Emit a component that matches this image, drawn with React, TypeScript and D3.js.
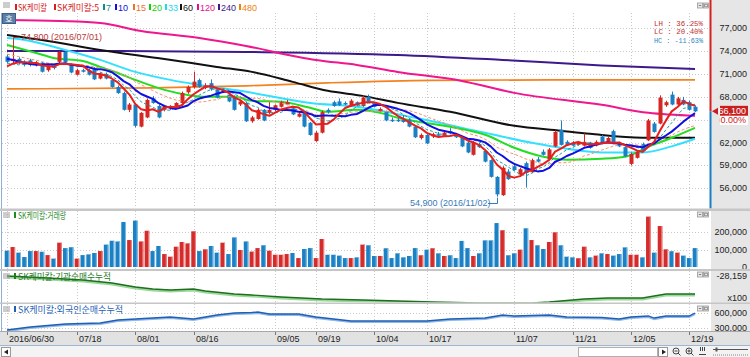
import React from 'react';
import * as d3 from 'd3';

// ---------- DATA ----------
const opens = [73300,72700,73000,72600,72800,72200,72500,71500,72000,72600,73900,72300,70900,71500,71500,71800,70400,71000,70200,69300,68500,66300,67000,64100,65300,67800,66800,66300,66500,66700,67200,68600,69300,70200,69200,69800,69000,68700,68300,68000,67000,67200,64800,65100,66300,65900,66300,66700,67000,66500,65400,65900,64600,62200,63300,66300,67300,67400,67200,66800,67300,66800,68000,67200,66100,66100,65000,65000,65000,65000,64100,62600,63000,62800,63100,62900,63500,62900,62700,62000,60400,61800,60900,59700,57500,55100,58200,58900,57800,59300,58100,59800,60800,59800,61500,63700,62100,62000,61700,61600,62000,61600,62800,62100,63500,61900,61400,59200,60000,61800,62300,64500,64500,66900,68300,67000,67600,67300,66700];
const highs = [73600,74800,73200,72800,73000,72700,72600,72200,72200,74000,74000,72400,71700,71700,71700,71900,71200,71200,70300,69500,68700,67200,67200,66000,67800,68100,67000,66900,66900,67300,68700,69500,71300,70400,69800,70300,69200,69100,68500,68200,67600,67400,65500,66500,66400,67300,67000,67500,67600,66700,66000,66000,64700,63500,66200,66500,67500,67800,67400,67700,67400,68200,68300,67300,66600,66200,65300,65300,65600,65200,64200,63200,63200,63300,63400,63500,63900,63000,62800,62100,62200,62000,61000,59800,57600,58900,58500,59300,58700,59500,59900,60100,61100,61300,63600,64900,62300,62200,62200,63200,62100,62300,63000,62800,63700,62100,61500,60700,61000,62000,65100,64700,68200,67500,68700,68000,68000,67500,66900];
const lows = [72400,72300,72300,72000,72000,72000,71200,71300,71600,72400,72400,71100,70800,71200,70800,70200,70300,70300,69200,68400,66200,66000,64000,64000,65200,67100,65200,66100,66300,66500,67000,68400,69100,69200,69000,68800,67800,68500,67300,66200,66800,64700,64600,65000,64800,65700,66100,66600,66900,65600,65300,64000,62900,62100,63200,65800,66700,66800,66900,66700,66800,66700,67300,66600,66000,64800,64700,64700,64600,64000,62600,62400,61800,62600,62800,62800,63100,62600,61400,60600,60300,61300,59400,57400,54900,55000,57100,58300,57600,56100,58000,59400,60300,59700,61400,61600,61600,61500,61600,61500,61200,61500,61900,62000,61800,61400,60100,59000,59900,60800,62200,63300,64400,66700,66900,66800,66900,66200,66000];
const closes = [72600,73000,72400,72200,72200,72500,71300,72000,71800,73900,72500,71200,71500,71300,70900,70300,71000,70400,69300,68500,66300,67000,64200,65900,67600,67200,65300,66800,66700,67200,68500,69300,70000,69300,69500,69000,67900,68900,67400,66300,67400,64800,65300,66300,64900,66300,66900,67300,67300,65700,65800,64100,63000,63300,66000,66000,66800,66900,67000,67500,66900,67900,67400,66700,66400,64900,64800,64800,64700,64100,62700,63000,61900,63100,62900,63300,63200,62700,61500,60700,62000,61400,59500,57500,55200,58700,57200,58400,58500,58000,59700,59500,60400,61100,63400,61700,61700,61600,62000,62100,61300,62100,62000,62600,61900,61500,60200,60500,60800,60900,64900,63400,67900,67300,67000,67800,67000,66300,66100];
const volumes = [93000,114000,82000,57000,91000,91000,87000,68000,48000,139000,108000,113000,48000,68000,72000,80000,91000,128000,150000,146000,257000,154000,265000,146000,207000,91000,120000,74000,59000,116000,143000,135000,204000,91000,101000,120000,82000,139000,74000,169000,97000,146000,88000,108000,124000,93000,70000,70000,74000,80000,51000,103000,108000,51000,160000,70000,70000,65000,51000,51000,55000,128000,124000,63000,63000,107000,51000,78000,55000,63000,108000,67000,99000,107000,78000,63000,67000,51000,149000,108000,63000,78000,152000,152000,251000,210000,67000,78000,99000,221000,154000,124000,103000,143000,198000,124000,59000,55000,50000,116000,55000,65000,78000,74000,65000,74000,112000,70000,70000,55000,288000,82000,234000,101000,90000,82000,65000,51000,108000];
// closes of the sessions just before the window (for the short moving averages)
const priorCloses = [75200,74900,74700,74800,74400,74600,74300,74100,73600,73400,71200,71500,72100,72600];

// long moving averages at sample bars
const ma20Idx = [0,5,8,13,16,19,22,27,31,34,39,42,47,52,55,60,64,67,76,82,87,92,96,102,106,110,114,118];
const ma20Val = [74810,73760,73110,72720,71930,71140,70230,68920,68260,68000,68000,67480,67350,66560,66040,66300,65900,65250,64070,63020,61320,60140,59750,59880,60140,61450,62630,63940];
const ma33Idx = [0,2,10,16,22,28,33,41,52,60,70,82,90,96,102,109,114,118];
const ma33Val = [75730,75600,74160,72850,71280,70230,69570,68660,67200,66690,65250,63280,61970,61200,60700,60700,61500,62500];
const ma60Idx = [0,7,16,27,36,42,49,55,61,67,76,87,95,100,109,118];
const ma60Val = [76120,75340,74160,72980,71930,71280,69970,68790,68130,67210,66040,64200,63550,63150,62630,62630];
const ma120Idx = [0,9,16,23,33,41,50,53,60,67,78,87,102,110,118];
const ma120Val = [78087,77956,77694,76646,75729,74681,73240,72847,72192,71275,70096,68524,66952,65904,65511];
const ma240Idx = [0,16,41,67,85,102,118];
const ma240Val = [74026,74026,73895,73502,72847,72127,71668];
const ma480Idx = [0,25,41,55,73,93,118];
const ma480Val = [69048,69179,69441,69834,70162,70227,70227];

// institution cumulative net buying (x100) and foreign cumulative net buying
const instIdx = [0,7,13,18,22,25,28,32,34,39,42,47,54,61,67,73,81,90,93,99,103,109,113,118];
const instVal = [-28159,-28378,-28596,-28924,-29361,-29580,-29689,-29580,-29799,-30126,-30236,-30454,-30673,-30782,-30892,-31001,-31110,-31110,-31001,-30673,-30564,-30564,-30126,-30126];
const forIdx = [0,4,10,16,19,25,28,32,36,39,42,43,45,50,53,59,64,72,76,82,85,87,93,96,102,105,107,110,111,113,117,118];
const forVal = [260000,320000,380000,400000,460000,500000,520000,480000,560000,600000,610000,620000,580000,580000,520000,440000,440000,440000,480000,500000,560000,540000,560000,520000,510000,480000,520000,540000,500000,540000,540000,600000];

const tickIdx = [0,12,22,32,46,53,63,72,87,97,107,117];
const tickLabels = ['2016/06/30','07/18','08/01','08/16','09/05','09/19','10/04','10/17','11/07','11/21','12/05','12/19'];
const priceTicks = [56000,59000,62000,65000,68000,71000,74000,77000];
const volTicks = [0,100000,200000];
const forTicks = [300000,600000];

const legendItems = [
  { label: 'SK케미칼', color: '#d42020', x: 15, w: 29 },
  { label: 'SK케미칼:5', color: '#d42020', x: 54, w: 42 },
  { label: '7', color: '#108c8c', x: 103, w: 0 },
  { label: '10', color: '#1010e0', x: 115, w: 0 },
  { label: '15', color: '#f07030', x: 133, w: 0 },
  { label: '20', color: '#10d010', x: 149, w: 0 },
  { label: '33', color: '#20d8f0', x: 165, w: 0 },
  { label: '60', color: '#111111', x: 180, w: 0 },
  { label: '120', color: '#e8108a', x: 197, w: 0 },
  { label: '240', color: '#3a1a8a', x: 218, w: 0 },
  { label: '480', color: '#f08010', x: 239, w: 0 },
];

// ---------- HELPERS ----------
const KF = '"Noto Sans CJK KR", sans-serif';
const NF = '"Liberation Sans", Arial, sans-serif';
const MF = '"Liberation Mono", "DejaVu Sans Mono", monospace';
const RED = '#d42622';
const BLUE = '#1b7fc4';

function sma(n: number): number[] {
  const all = [...priorCloses, ...closes];
  const off = priorCloses.length;
  return closes.map((_, i) => {
    const end = off + i;
    const start = Math.max(0, end - n + 1);
    return d3.mean(all.slice(start, end + 1)) as number;
  });
}
const fmt = d3.format(',');

export default function App() {
  const x = d3.scaleLinear().domain([0, 118]).range([7, 695]);
  const yP = d3.scaleLinear().domain([56000, 77000]).range([188.3, 28.3]);
  const yV = d3.scaleLinear().domain([0, 200000]).range([267, 232]);
  const yI = d3.scaleLinear().domain([-31000, -28159]).range([302, 276]);
  const yF = d3.scaleLinear().domain([300000, 600000]).range([328, 313]);

  const lineC = d3.line<number>().x((_, i) => x(i)).y((v) => yP(v));
  const sparse = (yS: d3.ScaleLinear<number, number>, idx: number[], vals: number[], curve = true) => {
    const g = d3.line<number>().x((_, k) => x(idx[k])).y((v) => yS(v));
    if (curve) g.curve(d3.curveMonotoneX);
    return g(vals) || '';
  };

  const ma5 = sma(5), ma7 = sma(7), ma10 = sma(10), ma15 = sma(15);
  const last = closes[closes.length - 1];
  const yLast = yP(last);

  const plotL = 2, plotR = 710;
  const smallButtons = (yy: number) => (
    <g>
      <rect x={697.5} y={yy} width={5} height={5} fill="#e8e8e8" stroke="#9a9a9a" strokeWidth={0.8} />
      <line x1={698.8} x2={701.2} y1={yy + 2.5} y2={yy + 2.5} stroke="#666" strokeWidth={0.8} />
      <rect x={703.5} y={yy} width={5} height={5} fill="#e8e8e8" stroke="#9a9a9a" strokeWidth={0.8} />
      <rect x={704.7} y={yy + 1.2} width={2.6} height={2.6} fill="none" stroke="#666" strokeWidth={0.6} />
    </g>
  );
  const menuIcon = (yy: number) => (
    <g stroke="#9a9a9a" strokeWidth={1}>
      <line x1={3} x2={10} y1={yy} y2={yy} />
      <line x1={3} x2={10} y1={yy + 2} y2={yy + 2} />
      <line x1={3} x2={10} y1={yy + 4} y2={yy + 4} />
    </g>
  );
  const panelLabel = (yy: number, text: string, color: string, w: number) => (
    <g>
      {menuIcon(yy - 2)}
      <rect x={14} y={yy - 3} width={2} height={6} fill={color} />
      <text x={18} y={yy} fontFamily={KF} fontSize={9} fill={color} dominantBaseline="central"
        textLength={w} lengthAdjust="spacingAndGlyphs">{text}</text>
    </g>
  );
  const vGrid = (y1: number, y2: number) =>
    tickIdx.map((t, k) => (
      <line key={k} x1={Math.round(x(t)) + 0.5} x2={Math.round(x(t)) + 0.5} y1={y1} y2={y2}
        stroke="#c8c8c8" strokeDasharray="1,2" />
    ));

  return (
    <svg width={750} height={357} style={{ position: 'absolute', left: 0, top: 0, background: '#fff' }}>
      <defs>
        <clipPath id="cp"><rect x={plotL} y={13} width={plotR - plotL} height={195.5} /></clipPath>
        <clipPath id="cv"><rect x={plotL} y={211} width={plotR - plotL} height={58} /></clipPath>
        <clipPath id="ci"><rect x={plotL} y={271} width={plotR - plotL} height={31.5} /></clipPath>
        <clipPath id="cf"><rect x={plotL} y={304} width={plotR - plotL} height={27} /></clipPath>
      </defs>

      {/* backgrounds */}
      <rect x={0} y={0} width={750} height={357} fill="#ffffff" />
      <rect x={711} y={0} width={39} height={331} fill="#e6e6e6" />
      <line x1={1.5} x2={1.5} y1={0} y2={331} stroke="#8fb0d6" />

      {/* ---------- PRICE PANEL ---------- */}
      {vGrid(13, 208)}
      {priceTicks.map((p) => (
        <line key={p} x1={plotL} x2={plotR} y1={Math.round(yP(p)) + 0.5} y2={Math.round(yP(p)) + 0.5}
          stroke="#c8c8c8" strokeDasharray="1,2" />
      ))}
      <g clipPath="url(#cp)" fill="none" strokeLinejoin="round">
        <path d={sparse(yP, ma480Idx, ma480Val)} stroke="#f58220" strokeWidth={1.6} />
        <path d={sparse(yP, ma240Idx, ma240Val)} stroke="#3c1a8c" strokeWidth={2} />
        <path d={sparse(yP, ma120Idx, ma120Val)} stroke="#f0168c" strokeWidth={2} />
        <path d={sparse(yP, ma60Idx, ma60Val)} stroke="#111111" strokeWidth={2} />
        <path d={sparse(yP, ma33Idx, ma33Val)} stroke="#33e0ff" strokeWidth={2} />
        <path d={sparse(yP, ma20Idx, ma20Val)} stroke="#22dd22" strokeWidth={2} />
      </g>
      <g clipPath="url(#cp)">
        {closes.map((c, i) => {
          const o = opens[i];
          const up = c >= o;
          const col = up ? RED : BLUE;
          const cx = Math.round(x(i));
          const top = yP(Math.max(o, c));
          const bot = yP(Math.min(o, c));
          return (
            <g key={i}>
              <line x1={cx + 0.5} x2={cx + 0.5} y1={yP(highs[i])} y2={yP(lows[i])} stroke={col} strokeWidth={1} />
              <rect x={cx - 1.5} y={top} width={4} height={Math.max(1, bot - top)} fill={col} />
            </g>
          );
        })}
      </g>
      <g clipPath="url(#cp)" fill="none" strokeLinejoin="round">
        <path d={lineC(ma15) || ''} stroke="#f5906a" strokeWidth={1} strokeDasharray="3,2" />
        <path d={lineC(ma7) || ''} stroke="#20a0a0" strokeWidth={1} strokeDasharray="3,2" />
        <path d={lineC(ma10) || ''} stroke="#1010e0" strokeWidth={2} />
        <path d={lineC(ma5) || ''} stroke="#e61e1e" strokeWidth={2} />
      </g>

      {/* high / low annotations */}
      <polyline points={`${Math.round(x(1)) + 0.5},${yP(highs[1])} ${Math.round(x(1)) + 0.5},37.5 19,37.5`}
        fill="none" stroke="#b83a3a" strokeWidth={1} />
      <text x={21} y={37} fontFamily={NF} fontSize={9} fill="#b83a3a" dominantBaseline="central">
        {`${fmt(highs[1])} (2016/07/01)`}
      </text>
      <text x={410} y={203} fontFamily={NF} fontSize={9} fill="#3a7ab8" dominantBaseline="central">
        {`${fmt(lows[84])} (2016/11/02)`}
      </text>
      <polyline points={`488,203.5 ${Math.round(x(84)) + 0.5},203.5 ${Math.round(x(84)) + 0.5},${yP(lows[84]) + 1}`}
        fill="none" stroke="#3a7ab8" strokeWidth={1} />

      {/* legend */}
      <rect x={0} y={0} width={plotR} height={13} fill="#ffffff" />
      {menuIcon(3)}
      {legendItems.map((d, k) => (
        <g key={k}>
          <rect x={d.x} y={4} width={2} height={6} fill={d.color} />
          <text x={d.x + 3} y={7.5} fontFamily={k < 2 ? KF : NF} fontSize={9} fill={d.color} dominantBaseline="central"
            {...(d.w ? { textLength: d.w, lengthAdjust: 'spacingAndGlyphs' } : {})}>{d.label}</text>
        </g>
      ))}
      {smallButtons(3)}
      <rect x={2.5} y={13.5} width={13} height={10} fill="#5b7fa6" stroke="#3d5f85" />
      <text x={9} y={18.8} fontFamily={KF} fontSize={8} fill="#ffffff" textAnchor="middle" dominantBaseline="central">호</text>

      {/* LH LC HC */}
      {[['LH :  36.25%', '#c03030', 23], ['LC :  20.40%', '#c03030', 31.5], ['HC : -11.63%', '#2f86c6', 40]].map(([t, c, yy], k) => (
        <text key={k} x={703} y={yy as number} fontFamily={MF} fontSize={8} fill={c as string} textAnchor="end"
          dominantBaseline="central" textLength={49} lengthAdjust="spacingAndGlyphs">{t}</text>
      ))}

      {/* price axis */}
      {priceTicks.map((p) => (
        <text key={p} x={747} y={yP(p)} fontFamily={NF} fontSize={9} fill="#222" textAnchor="end" dominantBaseline="central">{fmt(p)}</text>
      ))}
      <line x1={710.5} x2={710.5} y1={0} y2={yLast} stroke="#d42020" strokeWidth={2} />
      <line x1={710.5} x2={710.5} y1={yLast} y2={208.5} stroke="#1b7fc4" strokeWidth={2} />
      <path d={`M712,${yLast} L718,${yLast - 3.5} L718,${yLast + 3.5} Z`} fill="#c81e1e" />
      <rect x={720} y={yLast - 5.5} width={28} height={10} fill="#c81e1e" />
      <text x={746} y={yLast - 0.3} fontFamily={NF} fontSize={9} fill="#ffffff" textAnchor="end" dominantBaseline="central">{fmt(last)}</text>
      <rect x={720} y={yLast + 4.5} width={28} height={9} fill="#ffffff" />
      <text x={746} y={yLast + 9} fontFamily={NF} fontSize={9} fill="#d02020" textAnchor="end" dominantBaseline="central">0.00%</text>

      {/* separator */}
      <rect x={0} y={208.5} width={750} height={2.5} fill="#c6c6c6" />

      {/* ---------- VOLUME PANEL ---------- */}
      {vGrid(211, 269)}
      {volTicks.slice(1).map((v) => (
        <line key={v} x1={plotL} x2={plotR} y1={Math.round(yV(v)) + 0.5} y2={Math.round(yV(v)) + 0.5}
          stroke="#c8c8c8" strokeDasharray="1,2" />
      ))}
      <g clipPath="url(#cv)">
        {volumes.map((v, i) => {
          const up = closes[i] >= opens[i];
          const cx = x(i);
          return (
            <g key={i}>
              <rect x={cx - 2.3} y={yV(v)} width={4.6} height={yV(0) - yV(v)} fill={up ? '#d42b2b' : '#1c80c4'} />
              <rect x={cx + 1.3} y={yV(v)} width={1} height={yV(0) - yV(v)} fill={up ? '#ef8a8a' : '#7cbde6'} />
            </g>
          );
        })}
      </g>
      {panelLabel(215, 'SK케미칼:거래량', '#1f8a1f', 48)}
      {smallButtons(212)}
      {volTicks.map((v) => (
        <text key={v} x={747} y={yV(v)} fontFamily={NF} fontSize={9} fill="#222" textAnchor="end" dominantBaseline="central">{fmt(v)}</text>
      ))}
      <rect x={0} y={269} width={750} height={2} fill="#c6c6c6" />

      {/* ---------- INSTITUTION PANEL ---------- */}
      {vGrid(271, 302)}
      <g clipPath="url(#ci)" fill="none">
        <path d={sparse(yI, instIdx, instVal, false)} stroke="#9ad89a" strokeWidth={2.5} transform="translate(0,1.2)" />
        <path d={sparse(yI, instIdx, instVal, false)} stroke="#1e6e1e" strokeWidth={1.3} />
      </g>
      {panelLabel(276, 'SK케미칼:기관순매수누적', '#1f7a1f', 93)}
      {smallButtons(272)}
      <text x={747} y={276} fontFamily={NF} fontSize={9} fill="#222" textAnchor="end" dominantBaseline="central">-28,159</text>
      <text x={747} y={298} fontFamily={NF} fontSize={9} fill="#222" textAnchor="end" dominantBaseline="central">x100</text>
      <rect x={0} y={302.5} width={750} height={1.5} fill="#c6c6c6" />

      {/* ---------- FOREIGN PANEL ---------- */}
      {vGrid(304, 331)}
      {forTicks.map((v) => (
        <line key={v} x1={plotL} x2={plotR} y1={Math.round(yF(v)) + 0.5} y2={Math.round(yF(v)) + 0.5}
          stroke="#c8c8c8" strokeDasharray="1,2" />
      ))}
      <g clipPath="url(#cf)" fill="none">
        <path d={sparse(yF, forIdx, forVal, false)} stroke="#8fb8e6" strokeWidth={2.2} transform="translate(0,1)" />
        <path d={sparse(yF, forIdx, forVal, false)} stroke="#1f5fb5" strokeWidth={1.3} />
      </g>
      {panelLabel(309, 'SK케미칼:외국인순매수누적', '#1f5fb5', 105)}
      {smallButtons(306)}
      {forTicks.map((v) => (
        <text key={v} x={747} y={yF(v)} fontFamily={NF} fontSize={9} fill="#222" textAnchor="end" dominantBaseline="central">{fmt(v)}</text>
      ))}

      {/* ---------- X AXIS ---------- */}
      <rect x={0} y={331} width={750} height={14} fill="#e2e2e2" />
      <line x1={0} x2={750} y1={331.5} y2={331.5} stroke="#a8a8a8" />
      {tickIdx.map((t, k) => (
        <g key={k}>
          <line x1={Math.round(x(t)) + 0.5} x2={Math.round(x(t)) + 0.5} y1={332} y2={335} stroke="#777" />
          <text x={Math.round(x(t)) + 2} y={338.5} fontFamily={NF} fontSize={9} fill="#222" dominantBaseline="central">{tickLabels[k]}</text>
        </g>
      ))}

      {/* ---------- SCROLL BAR ---------- */}
      <rect x={0} y={345} width={750} height={12} fill="#f3f3f3" />
      <line x1={0} x2={750} y1={345.5} y2={345.5} stroke="#9fb6d0" />
      <rect x={1.5} y={347.5} width={9} height={9} fill="#fff" stroke="#999" />
      <path d="M4,352 L8,349.5 L8,354.5 Z" fill="#222" />
      <rect x={578.5} y={347.5} width={79} height={9} fill="#fff" stroke="#b0b0b0" />
      <rect x={658.5} y={347.5} width={9} height={9} fill="#fff" stroke="#999" />
      <path d="M662,349.5 L666,352 L662,354.5 Z" fill="#222" />
      {[673, 686].map((cx, k) => (
        <g key={k} fill="none" stroke="#444" strokeWidth={1}>
          <circle cx={cx + 3} cy={351} r={3} />
          <line x1={cx + 5} y1={353} x2={cx + 7.5} y2={355.5} />
          <line x1={cx + 1.5} y1={351} x2={cx + 4.5} y2={351} />
          {k === 1 && <line x1={cx + 3} y1={349.5} x2={cx + 3} y2={352.5} />}
        </g>
      ))}
      <g stroke="#444" strokeWidth={1}>
        <line x1={700.5} x2={700.5} y1={347} y2={351} />
        <line x1={702.5} x2={702.5} y1={347} y2={351} />
        <line x1={704.5} x2={704.5} y1={347} y2={351} />
        <line x1={699} x2={706} y1={354.5} y2={354.5} />
      </g>
      <line x1={713} x2={748} y1={349.5} y2={349.5} stroke="#555" />
      <rect x={715.5} y={347.5} width={2} height={4} fill="#555" />
      <line x1={713} x2={748} y1={355} y2={355} stroke="#888" strokeDasharray="1,1" />
    </svg>
  );
}
